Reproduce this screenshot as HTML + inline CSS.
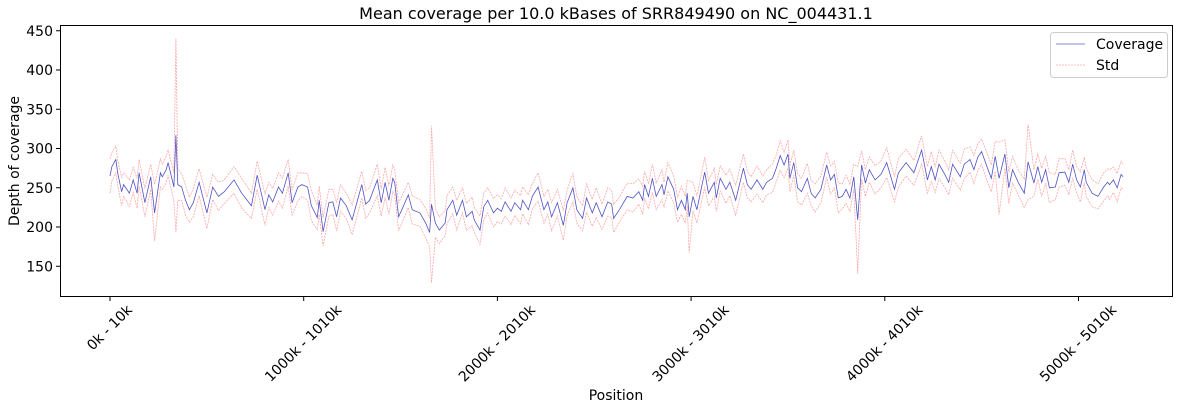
<!DOCTYPE html>
<html><head><meta charset="utf-8"><style>
body{margin:0;background:#fff;}
svg text{font-family:"DejaVu Sans","Liberation Sans",sans-serif;fill:#000;}
</style></head><body>
<svg id="chart" width="1181" height="410" xmlns="http://www.w3.org/2000/svg">
<text x="616" y="19" font-size="16" text-anchor="middle">Mean coverage per 10.0 kBases of SRR849490 on NC_004431.1</text>
<g id="plot"></g>
<rect x="60.5" y="25.5" width="1112" height="271" fill="none" stroke="#000" stroke-width="1"/>
<text x="616" y="400" font-size="14" text-anchor="middle">Position</text>
<text transform="translate(19,161) rotate(-90)" font-size="14" text-anchor="middle">Depth of coverage</text>
<g>
<rect x="1050.5" y="32.5" width="117" height="45" rx="3" fill="#fff" stroke="#ccc"/>
<line x1="1056" y1="44" x2="1085" y2="44" stroke="#3333bb" stroke-width="0.8" opacity="0.8"/>
<text x="1096" y="49" font-size="14">Coverage</text>
<line x1="1056" y1="65" x2="1085" y2="65" stroke="#ff8080" stroke-width="0.8" stroke-dasharray="2,1" opacity="0.7"/>
<text x="1096" y="70" font-size="14">Std</text>
</g>
</svg>
<script>
const binIndex=[0,1,3,4,6,7,10,12,14,15,18,21,23,26,27,29,30,33,34,35,37,39,41,43,46,50,53,56,59,64,68,73,76,80,82,84,87,89,92,94,97,99,102,104,107,108,110,113,115,117,119,122,125,130,132,134,138,140,142,144,146,147,149,151,154,156,160,163,165,166,168,170,173,174,177,179,182,184,187,188,191,193,195,198,200,202,204,207,209,212,213,216,218,221,224,226,228,231,234,236,239,241,244,246,249,251,254,257,259,260,263,267,270,273,275,276,278,280,282,285,286,288,291,293,295,297,298,299,301,303,307,309,312,313,315,318,320,323,327,329,331,334,337,339,342,344,346,348,350,351,353,355,357,360,362,364,367,370,372,374,376,378,380,382,384,386,388,390,392,395,398,401,405,407,411,415,419,422,424,426,428,431,433,435,439,441,444,446,448,450,453,455,457,459,462,464,466,469,472,474,477,479,481,483,485,488,490,493,495,497,499,501,503,504,507,510,513,515,516,518,520,522,523];
const coverage=[265,277,286,269,245,254,243,260,243,269,231,264,218,269,264,273,282,251,317,254,251,234,222,231,257,218,251,239,245,260,243,227,266,222,241,232,251,243,269,231,251,254,251,227,212,234,194,231,232,213,237,227,209,254,229,234,260,231,257,234,262,257,213,224,241,222,218,205,193,229,205,196,205,222,234,215,234,213,220,209,196,226,234,218,224,220,232,220,231,222,234,222,239,251,222,232,213,231,202,231,250,222,211,237,218,231,213,232,229,211,222,239,237,245,234,254,239,262,239,254,241,264,248,222,234,222,243,213,239,222,270,243,257,237,262,248,257,234,275,254,248,260,248,257,262,275,291,279,293,262,282,250,245,262,243,237,248,279,260,267,237,239,248,237,264,209,279,256,273,260,267,282,248,269,282,269,298,260,277,260,280,267,257,280,264,280,286,273,289,296,275,262,290,262,293,250,273,256,243,283,256,277,257,273,250,251,269,270,257,280,260,251,273,257,243,239,251,257,254,260,250,267,264];
const stdDev=[22,18,17,16,18,15,17,16,19,17,18,16,36,18,16,17,16,18,123,20,17,19,16,18,17,20,16,18,15,17,19,16,18,20,16,17,18,19,17,16,18,15,17,19,16,18,18,17,16,18,17,16,19,17,18,16,20,17,19,18,17,16,18,17,16,18,17,19,18,100,18,17,16,18,17,19,16,17,18,16,18,17,16,18,17,16,18,17,16,18,17,19,16,18,17,16,18,17,19,16,18,17,16,18,17,19,16,18,17,18,16,17,18,16,18,17,16,18,17,19,16,18,17,16,18,17,16,46,18,17,19,16,18,17,16,18,17,19,18,17,16,18,17,16,18,17,19,16,18,17,16,18,17,19,16,18,17,16,18,17,19,16,18,17,16,68,18,17,16,18,17,19,16,18,17,16,18,17,19,16,18,17,16,18,17,19,16,18,17,16,18,17,19,46,18,20,17,16,18,48,17,16,18,17,19,16,18,17,16,18,17,19,16,18,17,16,18,17,19,16,18,17,16,18,17,19];
const yTicks=[150,200,250,300,350,400,450];
const xTickIdx=[0,100,200,300,400,500];
const xTickLabels=["0k - 10k","1000k - 1010k","2000k - 2010k","3000k - 3010k","4000k - 4010k","5000k - 5010k"];

const NS="http://www.w3.org/2000/svg";
const svg=document.getElementById('chart');
const plot=document.getElementById('plot');
function xScale(i){return 110+i*1.937;}
function yScale(v){return 227-(v-200)*0.785;}
function mk(tag,attrs,parent){const e=document.createElementNS(NS,tag);for(const k in attrs)e.setAttribute(k,attrs[k]);(parent||svg).appendChild(e);return e;}

function pathFor(vals){return vals.map((v,i)=>(i?'L':'M')+xScale(binIndex[i]).toFixed(1)+','+yScale(v).toFixed(1)).join(' ');}
const upper=coverage.map((v,i)=>v+stdDev[i]);
const lower=coverage.map((v,i)=>v-stdDev[i]);
const up=mk('path',{d:pathFor(upper),fill:'none',stroke:'#ff8080','stroke-width':0.8,'stroke-dasharray':'2,1',opacity:0.7},plot);


const lo=mk('path',{d:pathFor(lower),fill:'none',stroke:'#ff8080','stroke-width':0.8,'stroke-dasharray':'2,1',opacity:0.7},plot);


const cov=mk('path',{d:pathFor(coverage),fill:'none',stroke:'#3333bb','stroke-width':0.8,opacity:0.85},plot);



yTicks.forEach(t=>{
  const y=yScale(t);
  const l=mk('line',{x1:56,x2:60,y1:y,y2:y,stroke:'#000'});
  
  
  const tx=mk('text',{x:53,y:y+5,'font-size':14,'text-anchor':'end'});
  tx.textContent=t;
  
  
});
xTickIdx.forEach((t,k)=>{
  const x=xScale(t);
  const l=mk('line',{x1:x,x2:x,y1:297,y2:301,stroke:'#000'});
  
  
  const tx=mk('text',{x:0,y:0,'font-size':14,'text-anchor':'middle','dominant-baseline':'central'});
  tx.textContent=xTickLabels[k];
  
  
  const L=tx.getComputedTextLength();
  const cy=303+(L*0.7071+14*0.7071)/2;
  tx.setAttribute('transform','translate('+x+','+cy+') rotate(-45)');
});
</script>
</body></html>
